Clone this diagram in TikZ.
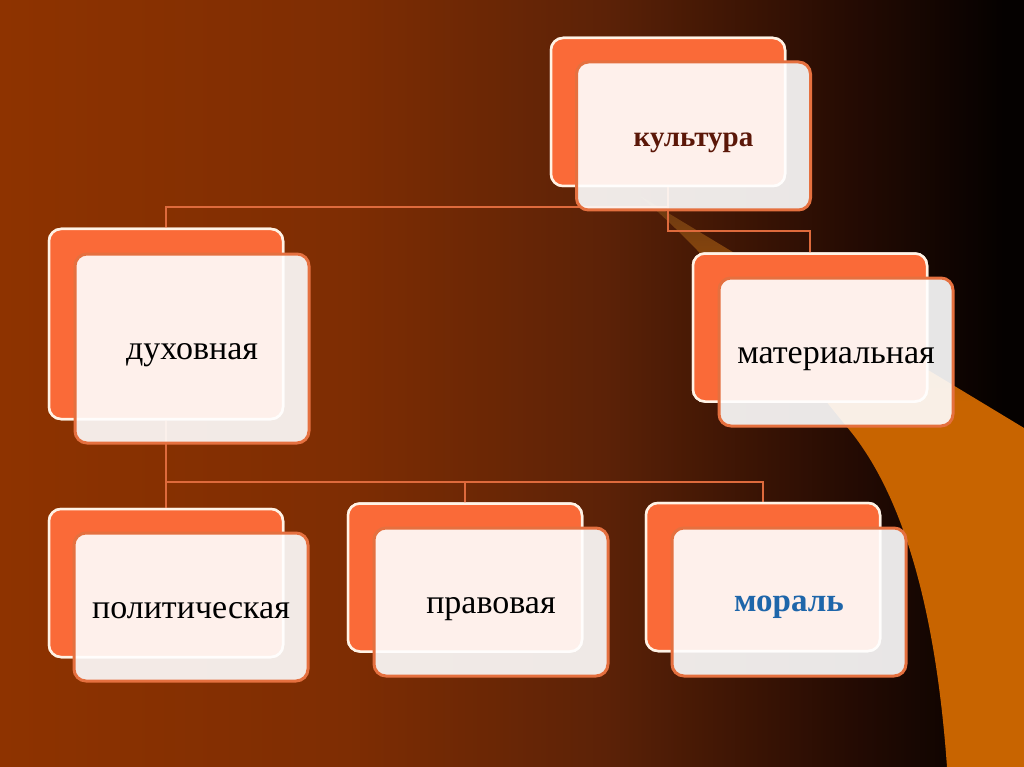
\documentclass[tikz,border=0pt]{standalone}
\usepackage{fontspec}
\setmainfont{Liberation Serif}
\definecolor{bgA}{HTML}{8E3300}
\definecolor{bgB}{HTML}{7E2D03}
\definecolor{bgC}{HTML}{5C2207}
\definecolor{bgD}{HTML}{471905}
\definecolor{bgE}{HTML}{250B03}
\definecolor{bgF}{HTML}{050100}
\definecolor{swA}{HTML}{C86400}
\definecolor{swB}{HTML}{6A3812}
\definecolor{boxorange}{HTML}{FA6A38}
\definecolor{boxrim}{HTML}{FFF3E6}
\definecolor{frontrim}{HTML}{E5703F}
\definecolor{linecol}{HTML}{DE6A3C}
\definecolor{kultcol}{HTML}{5B1708}
\definecolor{moralcol}{HTML}{1E66AA}
% the path is fitted to the 25bp--75bp band of a shading
\pgfdeclarehorizontalshading{bgshade}{100bp}{color(0bp)=(bgA); color(25bp)=(bgA); color(42bp)=(bgB); color(54.5bp)=(bgC); color(59bp)=(bgD); color(66.5bp)=(bgE); color(74bp)=(bgF); color(100bp)=(bgF)}
\pgfdeclareverticalshading{swshade}{100bp}{color(0bp)=(swA); color(25bp)=(swA); color(57bp)=(swA); color(75bp)=(swB); color(100bp)=(swB)}
\tikzset{
  backbox/.style={rectangle, rounded corners=12pt, fill=boxorange, draw=boxrim, line width=2.5pt, minimum width=234pt, minimum height=148pt, inner sep=0pt, outer sep=0pt},
  frontbox/.style={rectangle, rounded corners=12pt, fill=white, fill opacity=0.9, text opacity=1, draw=frontrim, line width=3pt, minimum width=234pt, minimum height=148pt, inner sep=0pt, outer sep=0pt, text height=30pt, text depth=8pt, font=\fontsize{34}{40}\selectfont},
  conn/.style={draw=linecol, line width=2.4pt}
}
\begin{document}
\begin{tikzpicture}[x=1pt,y=-1pt]
\useasboundingbox (0,0) rectangle (1024,767);
\shade[shading=bgshade] (0,0) rectangle (1024,767);
\shade[shading=swshade] (640,196) -- (1024,428) -- (1024,767) -- (947,767)
  .. controls (935,600) and (900,490) .. (847,427)
  .. controls (780,345) and (720,265) .. (640,196) -- cycle;
% back boxes
\node[backbox] (kb) at (668,112) {};
\node[backbox, minimum height=190pt] (db) at (166,324) {};
\node[backbox] (mb) at (810,327.5) {};
\node[backbox] (pb) at (166,583) {};
\node[backbox] (rb) at (465,577.5) {};
\node[backbox] (ob) at (763,577) {};
% connectors
\draw[conn] (kb.south) -- ++(0,21) -| (db.north);
\draw[conn] (kb.south) -- ++(0,45) -| (mb.north);
\draw[conn] (db.south) -- (pb.north);
\draw[conn] (db.south) -- ++(0,63) -| (rb.north);
\draw[conn] (db.south) -- ++(0,63) -| (ob.north);
% redraw back boxes over connectors
\node[backbox] at (kb) {};
\node[backbox, minimum height=190pt] at (db) {};
\node[backbox] at (mb) {};
\node[backbox] at (pb) {};
\node[backbox] at (rb) {};
\node[backbox] at (ob) {};
% front boxes
\node[frontbox, text=kultcol, font=\fontsize{29}{34}\selectfont\bfseries] (kf) at (693.5,136) {культура};
\node[frontbox, minimum height=189pt] (df) at (192,348.5) {духовная};
\node[frontbox] (mf) at (836,352) {материальная};
\node[frontbox] (pf) at (191,607) {политическая};
\node[frontbox] (rf) at (491,602) {правовая};
\node[frontbox, text=moralcol, font=\fontsize{33}{38}\selectfont\bfseries, text height=26pt] (of) at (789,602) {мораль};
\end{tikzpicture}
\end{document}
